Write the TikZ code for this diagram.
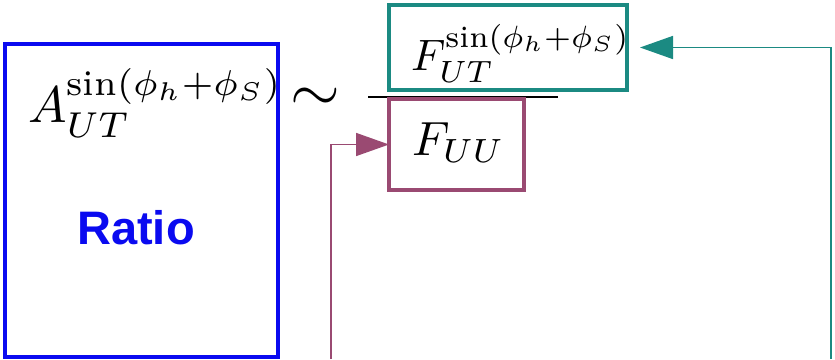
\documentclass[tikz,border=0pt]{standalone}
\usepackage{fontspec}
\newfontfamily\ratiofont{Liberation Sans}
\usetikzlibrary{arrows.meta, positioning}
\definecolor{ratioblue}{HTML}{0A0AF0}
\definecolor{numteal}{HTML}{1B8A82}
\definecolor{denpurple}{HTML}{9A4A72}
\begin{document}
\begin{tikzpicture}[
        x=0.5pt, y=-0.5pt,
        every node/.style={align=center, outer sep=0pt},
        termbox/.style={rectangle, line width=1.7pt, inner sep=0pt},
        formula/.style={inner sep=0pt, anchor=base west},
        feed/.style={line width=0.8pt,
                     -{Triangle[length=16.5pt, width=11.5pt]}}
    ]
        \useasboundingbox (0,0) rectangle (835,359);

        % --- Cociente: asimetria ---
        \node[termbox, draw=ratioblue, minimum width=136.5pt,
              minimum height=156.5pt] (ratio) at (141.5,200.5) {};
        \node[formula] (asym) at (28,122)
            {\scalebox{2.57}{$A_{UT}^{\sin(\phi_h+\phi_S)}$}};
        \node[font=\ratiofont\fontsize{23.5}{28}\selectfont\bfseries,
              text=ratioblue] (ratiolbl) at (136,228) {Ratio};
        \node (tilde) at (315,100) {\scalebox{3.2}{$\sim$}};

        % --- Numerador y denominador ---
        \node[termbox, draw=numteal, minimum width=119pt,
              minimum height=42.5pt] (ut) at (508,47.5) {};
        \node[formula] (fut) at (411,70)
            {\scalebox{2.2}{$F_{UT}^{\sin(\phi_h+\phi_S)}$}};
        \draw[line width=0.6pt] (368,97) -- (558,97);
        \node[termbox, draw=denpurple, minimum width=67.5pt,
              minimum height=45.5pt] (uu) at (456.5,144.5) {};
        \node[formula] (fuu) at (412,155)
            {\scalebox{2.4}{$F_{UU}$}};

        % --- Flechas de entrada ---
        \coordinate (uuin) at (331,359);
        \coordinate (utin) at (831,359);
        \draw[feed, draw=denpurple] (uuin) |- (uu.west);
        \draw[feed, draw=numteal, shorten >=6.5pt] (utin) |- (ut.east);
    \end{tikzpicture}
\end{document}
